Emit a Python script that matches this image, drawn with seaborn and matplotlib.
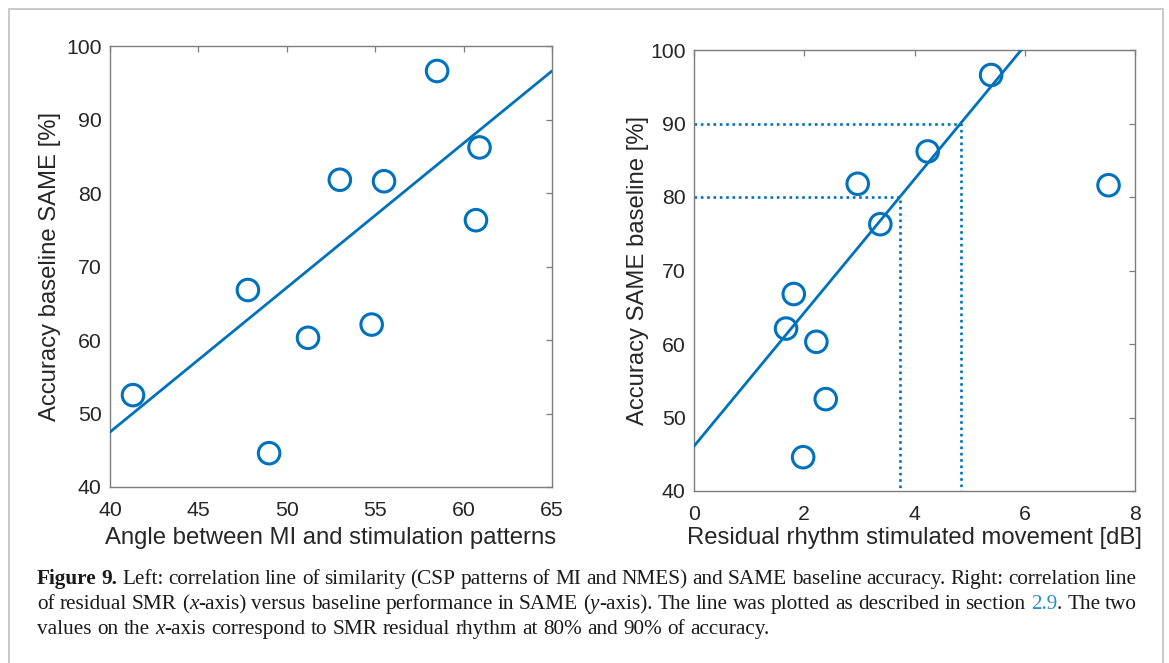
import numpy as np
import matplotlib
matplotlib.use("Agg")
import matplotlib.pyplot as plt
import seaborn as sns
from matplotlib.transforms import IdentityTransform
from matplotlib.patches import Rectangle

# ---------------- data ----------------
accuracy = [96.6, 86.2, 81.8, 81.6, 76.3, 66.8, 62.1, 60.3, 52.5, 44.6]
angle = [58.5, 60.9, 53.0, 55.5, 60.7, 47.8, 54.8, 51.2, 41.3, 49.0]
residual = [5.39, 4.24, 2.97, 7.52, 3.38, 1.81, 1.67, 2.22, 2.39, 1.98]

fit_left = {"slope": 1.965, "intercept": -31.12}
fit_right = {"slope": 9.08, "intercept": 46.1}
thresholds = [80, 90]

left_xticks = [40, 45, 50, 55, 60, 65]
right_xticks = [0, 2, 4, 6, 8]
yticks = [40, 50, 60, 70, 80, 90, 100]

left_xlabel = "Angle between MI and stimulation patterns"
left_ylabel = "Accuracy baseline SAME [%]"
right_xlabel = "Residual rhythm stimulated movement [dB]"
right_ylabel = "Accuracy SAME baseline [%]"

caption_lines = [
    [("Figure 9.", "b"),
     (" Left: correlation line of similarity (CSP patterns of MI and NMES) and SAME baseline accuracy. Right: correlation line", "n")],
    [("of residual SMR (", "n"), ("x", "i"), ("-axis) versus baseline performance in SAME (", "n"),
     ("y", "i"), ("-axis). The line was plotted as described in section ", "n"), ("2.9", "l"),
     (". The two", "n")],
    [("values on the ", "n"), ("x", "i"),
     ("-axis correspond to SMR residual rhythm at 80% and 90% of accuracy.", "n")],
]
caption_justify = [True, True, False]

# ---------------- style ----------------
BLUE = "#0072BD"
SPINE = "#7d7d7d"
TXT = "#262626"
W, H = 1169, 663

sns.set_style("white")
plt.rcParams["font.family"] = ["Liberation Sans", "DejaVu Sans"]

fig = plt.figure(figsize=(W / 100, H / 100), dpi=100)


def px_axes(l, t, r, b):
    return fig.add_axes([l / W, 1 - b / H, (r - l) / W, (b - t) / H])


axL = px_axes(110, 46, 552, 487)
axR = px_axes(694, 50, 1135, 491)


def style_axes(ax, xlim, xticks, xlabel, ylabel, xlabelpad, ylabelpad):
    ax.set_xlim(*xlim)
    ax.set_ylim(40, 100)
    ax.set_xticks(xticks)
    ax.set_yticks(yticks)
    for s in ax.spines.values():
        s.set_color(SPINE)
        s.set_linewidth(1.0)
        s.set_visible(True)
    ax.tick_params(direction="in", top=True, right=True, length=4, width=0.9,
                   color=SPINE, labelcolor=TXT, labelsize=15.3)
    ax.tick_params(axis="x", pad=10)
    ax.tick_params(axis="y", pad=6)
    ax.set_xlabel(xlabel, fontsize=17.2, color=TXT, labelpad=xlabelpad)
    ax.set_ylabel(ylabel, fontsize=17.2, color=TXT, labelpad=ylabelpad)
    ax.set_facecolor("white")


def draw(ax, x, y, fit, xlim):
    xs = np.array(xlim, dtype=float)
    ys = fit["intercept"] + fit["slope"] * xs
    sns.lineplot(x=xs, y=ys, ax=ax, color=BLUE, linewidth=2.0, zorder=3)
    sns.scatterplot(x=x, y=y, ax=ax, marker="o", s=240, facecolors="none",
                    edgecolors=BLUE, linewidths=2.2, zorder=4)


style_axes(axL, (40, 65), left_xticks, left_xlabel, left_ylabel, 5, 4)
draw(axL, angle, accuracy, fit_left, (40, 65))

style_axes(axR, (0, 8), right_xticks, right_xlabel, right_ylabel, 2.5, 1)
draw(axR, residual, accuracy, fit_right, (0, 8))
for thr in thresholds:
    xt = (thr - fit_right["intercept"]) / fit_right["slope"]
    sns.lineplot(x=[0, xt, xt], y=[thr, thr, 40], ax=axR, color=BLUE, linewidth=1.9,
                 linestyle=(0, (1, 1.4)), estimator=None, sort=False, zorder=2)

for ax in (axL, axR):
    leg = ax.get_legend()
    if leg:
        leg.remove()

# ---------------- border ----------------
fig.patches.append(Rectangle((8.5, -20), 1154, H - 8.5 + 20, transform=IdentityTransform(),
                             fill=False, edgecolor="#c9c9c9", linewidth=1.4))

# ---------------- caption ----------------
fig.canvas.draw()
renderer = fig.canvas.get_renderer()
CAP_FONT = ["Liberation Serif", "DejaVu Serif"]
CAP_SIZE = 15.3
LINK = "#2a8fd0"


def style_kw(st):
    kw = dict(family=CAP_FONT, fontsize=CAP_SIZE, color="#1a1a1a")
    if st == "b":
        kw["weight"] = "bold"
    if st == "i":
        kw["style"] = "italic"
    if st == "l":
        kw["color"] = LINK
    return kw


def measure(s, st):
    t = fig.text(0, 0, s + "|", transform=IdentityTransform(), **style_kw(st))
    t2 = fig.text(0, 0, "|", transform=IdentityTransform(), **style_kw(st))
    w = t.get_window_extent(renderer).width - t2.get_window_extent(renderer).width
    t.remove()
    t2.remove()
    return w


space_w = measure(" ", "n")
x_left, x_right = 37, 1137
baselines = [H - 584, H - 609, H - 634]

for segs, just, yb in zip(caption_lines, caption_justify, baselines):
    words = []
    new_word = True
    for text, st in segs:
        parts = text.split(" ")
        for i, p in enumerate(parts):
            if i > 0:
                new_word = True
            if p == "":
                continue
            if new_word or not words:
                words.append([])
                new_word = False
            words[-1].append((p, st))
    widths = [[measure(p, st) for p, st in w] for w in words]
    total = sum(sum(w) for w in widths)
    gap = space_w
    if just and len(words) > 1:
        gap = (x_right - x_left - total) / (len(words) - 1)
    x = x_left
    for w, ws in zip(words, widths):
        for (p, st), pw in zip(w, ws):
            fig.text(x, yb, p, transform=IdentityTransform(), va="baseline", ha="left",
                     **style_kw(st))
            x += pw
        x += gap

fig.savefig("out.png", dpi=100, facecolor="white")
